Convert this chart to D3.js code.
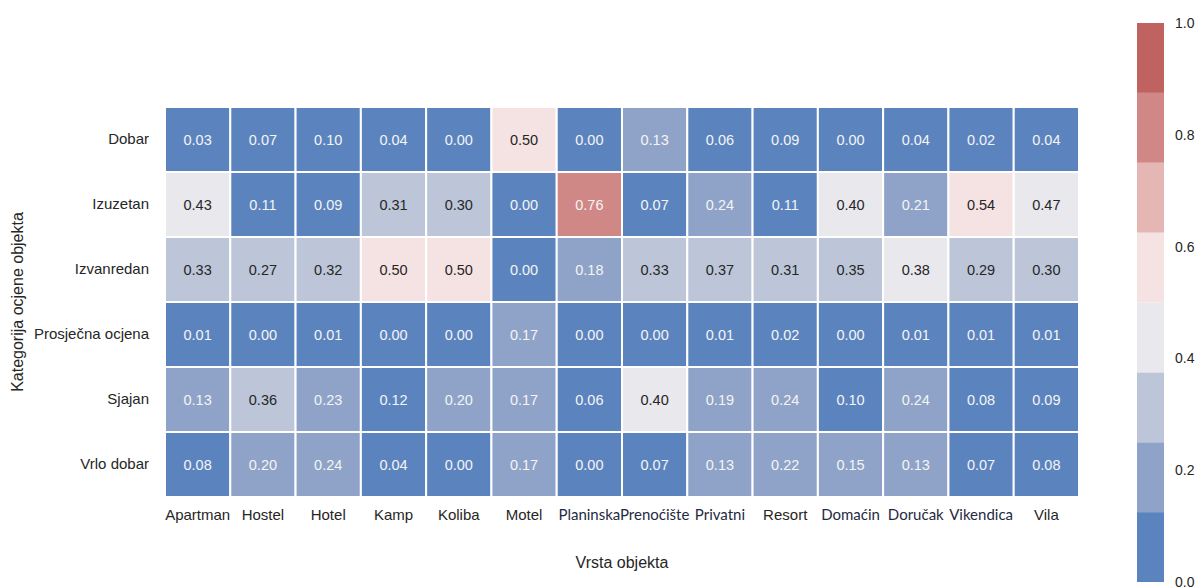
<!DOCTYPE html>
<html>
<head>
<meta charset="utf-8">
<script src="https://cdn.jsdelivr.net/npm/d3@7"></script>
<style>
  body { margin: 0; background: #fff; }
  text { font-family: "Liberation Sans", Arial, sans-serif; }
</style>
</head>
<body>
<div id="chart"></div>
<script>
// Datos
var objekti = ["Apartman", "Hostel", "Hotel", "Kamp", "Koliba", "Motel", "Planinska",
               "Prenoćište", "Privatni", "Resort", "Domaćin", "Doručak", "Vikendica", "Vila"];
var kategorije = ["Dobar", "Izuzetan", "Izvanredan", "Prosječna ocjena", "Sjajan", "Vrlo dobar"];

var dobar      = [0.03, 0.07, 0.10, 0.04, 0.00, 0.50, 0.00, 0.13, 0.06, 0.09, 0.00, 0.04, 0.02, 0.04];
var izuzetan   = [0.43, 0.11, 0.09, 0.31, 0.30, 0.00, 0.76, 0.07, 0.24, 0.11, 0.40, 0.21, 0.54, 0.47];
var izvanredan = [0.33, 0.27, 0.32, 0.50, 0.50, 0.00, 0.18, 0.33, 0.37, 0.31, 0.35, 0.38, 0.29, 0.30];
var prosjecna  = [0.01, 0.00, 0.01, 0.00, 0.00, 0.17, 0.00, 0.00, 0.01, 0.02, 0.00, 0.01, 0.01, 0.01];
var sjajan     = [0.13, 0.36, 0.23, 0.12, 0.20, 0.17, 0.06, 0.40, 0.19, 0.24, 0.10, 0.24, 0.08, 0.09];
var vrloDobar  = [0.08, 0.20, 0.24, 0.04, 0.00, 0.17, 0.00, 0.07, 0.13, 0.22, 0.15, 0.13, 0.07, 0.08];

var colorbarTicks = [0.0, 0.2, 0.4, 0.6, 0.8, 1.0];

var rows = [dobar, izuzetan, izvanredan, prosjecna, sjajan, vrloDobar];

// paleta divergente con 8 niveles
var paleta = ["#5b84bf", "#8ea3c7", "#bcc6d8", "#e8e8ed", "#f5e3e3", "#e4b7b5", "#d08886", "#bf6260"];
// etiquetas que salen con otra fuente en la imagen
var altFont = ["Planinska", "Prenoćište", "Privatni", "Domaćin", "Doručak", "Vikendica"];

var width = 1200, height = 588;
var margin = { top: 107, left: 165, right: 121, bottom: 91 };

var svg = d3.select("#chart").append("svg")
    .attr("width", width)
    .attr("height", height);

var x = d3.scaleBand().domain(objekti).range([margin.left, width - margin.right]);
var y = d3.scaleBand().domain(kategorije).range([margin.top, height - margin.bottom]);
var color = d3.scaleQuantize().domain([0, 1]).range(paleta);

var cells = [];
rows.forEach(function(r, i) {
    r.forEach(function(v, j) {
        cells.push({ kat: kategorije[i], obj: objekti[j], v: v });
    });
});

var g = svg.append("g");

g.selectAll("rect")
    .data(cells)
    .enter().append("rect")
    .attr("x", function(d) { return x(d.obj); })
    .attr("y", function(d) { return y(d.kat); })
    .attr("width", x.bandwidth())
    .attr("height", y.bandwidth())
    .attr("fill", function(d) { return color(d.v); })
    .attr("stroke", "#fff")
    .attr("stroke-width", 2);

g.selectAll("text.val")
    .data(cells)
    .enter().append("text")
    .attr("class", "val")
    .attr("x", function(d) { return x(d.obj) + x.bandwidth() / 2; })
    .attr("y", function(d) { return y(d.kat) + y.bandwidth() / 2; })
    .attr("dy", "0.35em")
    .attr("text-anchor", "middle")
    .style("font-size", "14.5px")
    .attr("fill", function(d) {
        var i = paleta.indexOf(color(d.v));
        return (i >= 2 && i <= 5) ? "#262626" : "#f4f4f4";
    })
    .text(function(d) { return d.v.toFixed(2); });

// Eje x
var xAxis = svg.append("g")
    .attr("transform", "translate(0," + (height - margin.bottom) + ")")
    .call(d3.axisBottom(x).tickSize(0).tickPadding(12));
xAxis.select(".domain").remove();
xAxis.selectAll("text")
    .style("font-family", function(d) {
        return altFont.indexOf(d) >= 0 ? "Lato, sans-serif" : "'Liberation Sans', Arial, sans-serif";
    })
    .style("font-size", "15px")
    .attr("fill", function(d) { return altFont.indexOf(d) >= 0 ? "#1f2a44" : "#262626"; });

// Eje y
var yAxis = svg.append("g")
    .attr("transform", "translate(" + margin.left + ",0)")
    .call(d3.axisLeft(y).tickSize(0).tickPadding(16));
yAxis.select(".domain").remove();
yAxis.selectAll("text")
    .style("font-size", "15px")
    .attr("fill", "#262626");

// Titulos de ejes
svg.append("text")
    .attr("x", (margin.left + width - margin.right) / 2)
    .attr("y", 568)
    .attr("text-anchor", "middle")
    .style("font-size", "16px")
    .attr("fill", "#262626")
    .text("Vrsta objekta");

svg.append("text")
    .attr("transform", "translate(23," + ((margin.top + height - margin.bottom) / 2) + ") rotate(-90)")
    .attr("text-anchor", "middle")
    .style("font-size", "16px")
    .attr("fill", "#262626")
    .text("Kategorija ocjene objekta");

// Barra de color
var cbX = 1137, cbW = 27, cbTop = 23, cbBottom = 582;
var cbY = d3.scaleLinear().domain([0, 1]).range([cbBottom, cbTop]);
var bins = paleta.map(function(c, i) { return { c: c, lo: i / paleta.length, hi: (i + 1) / paleta.length }; });

svg.append("g").selectAll("rect")
    .data(bins)
    .enter().append("rect")
    .attr("x", cbX)
    .attr("y", function(d) { return cbY(d.hi); })
    .attr("width", cbW)
    .attr("height", function(d) { return cbY(d.lo) - cbY(d.hi); })
    .attr("fill", function(d) { return d.c; });

var cbAxis = svg.append("g")
    .attr("transform", "translate(" + (cbX + cbW) + ",0)")
    .call(d3.axisRight(cbY).tickValues(colorbarTicks).tickFormat(d3.format(".1f")).tickSize(0).tickPadding(11));
cbAxis.select(".domain").remove();
cbAxis.selectAll("text")
    .style("font-size", "14px")
    .attr("fill", "#262626");
</script>
</body>
</html>
